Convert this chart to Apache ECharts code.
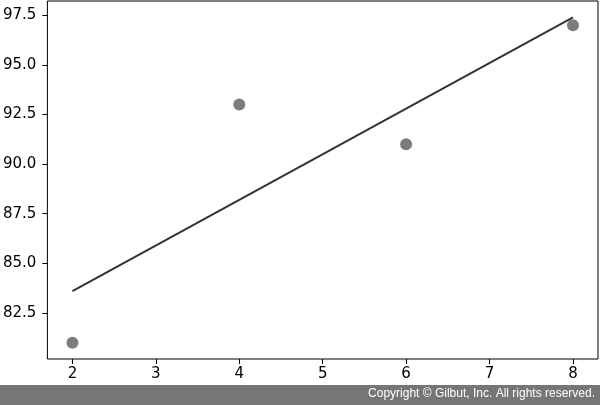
<!DOCTYPE html>
<html><head><meta charset="utf-8">
<script src="https://cdn.jsdelivr.net/npm/echarts@6/dist/echarts.min.js"></script>
<style>html,body{margin:0;padding:0;background:#fff}#c{width:600px;height:405px}</style>
</head><body><div id="c"></div>
<script>
const pointX = [2, 4, 6, 8];
const pointY = [81, 93, 91, 97];
const lineX = [2, 8];
const lineY = [83.6, 97.4];
const xTicks = [2, 3, 4, 5, 6, 7, 8];
const yTicks = [82.5, 85.0, 87.5, 90.0, 92.5, 95.0, 97.5];
const copyrightText = 'Copyright © Gilbut, Inc. All rights reserved.';

const chart = echarts.init(document.getElementById('c'), null, {renderer: 'canvas'});
const lab = {color: '#000', fontFamily: 'DejaVu Sans', fontSize: 15};
chart.setOption({
  animation: false,
  grid: {left: 47, right: 2, top: 1, bottom: 46, show: true, borderColor: '#000', borderWidth: 1, backgroundColor: '#fff'},
  xAxis: {
    type: 'value', min: 1.7, max: 8.3,
    splitLine: {show: false},
    axisLine: {show: false},
    axisTick: {show: true, length: 5, lineStyle: {color: '#000'}, customValues: xTicks},
    axisLabel: Object.assign({}, lab, {margin: 8, customValues: xTicks, formatter: v => String(v)})
  },
  yAxis: {
    type: 'value', min: 80.18, max: 98.22,
    splitLine: {show: false},
    axisLine: {show: false},
    axisTick: {show: true, length: 5, lineStyle: {color: '#000'}, customValues: yTicks},
    axisLabel: Object.assign({}, lab, {margin: 11, customValues: yTicks, formatter: v => v.toFixed(1)})
  },
  series: [
    {type: 'scatter', data: pointX.map((x, i) => [x, pointY[i]]), symbolSize: 12, itemStyle: {color: '#5c5c5c'}, z: 2},
    {type: 'line', data: lineX.map((x, i) => [x, lineY[i]]), symbol: 'none', lineStyle: {color: '#333', width: 2}, z: 3}
  ],
  graphic: [
    {type: 'rect', left: 0, top: 385, shape: {width: 600, height: 20}, style: {fill: '#767676'}},
    {type: 'text', right: 5, top: 388, style: {text: copyrightText, fill: '#fff', fontSize: 12, fontFamily: 'Liberation Sans'}}
  ]
});
</script></body></html>
